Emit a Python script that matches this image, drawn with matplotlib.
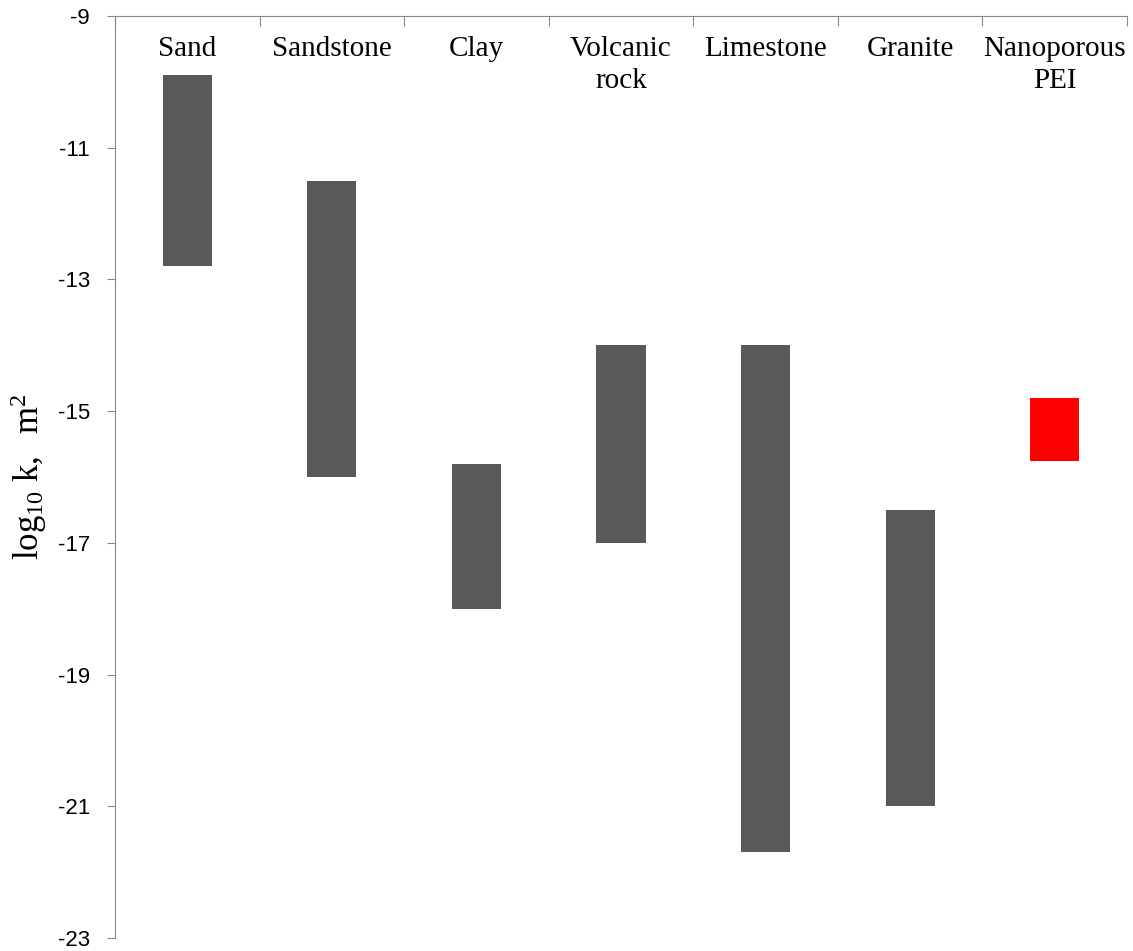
import matplotlib
matplotlib.use("Agg")
import matplotlib.pyplot as plt

# Permeability ranges (log10 k, m^2) for each material
categories = ["Sand", "Sandstone", "Clay", "Volcanic\nrock", "Limestone", "Granite", "Nanoporous\nPEI"]
upper = [-9.9, -11.5, -15.8, -14.0, -14.0, -16.5, -14.8]
lower = [-12.8, -16.0, -18.0, -17.0, -21.7, -21.0, -15.75]
colors = ["#595959"] * 6 + ["#ff0000"]

plt.rcParams["mathtext.fontset"] = "custom"
plt.rcParams["mathtext.rm"] = "Liberation Serif"
plt.rcParams["mathtext.it"] = "Liberation Serif:italic"

W, H = 1133, 951
fig = plt.figure(figsize=(W / 100, H / 100), dpi=100)
ax = fig.add_axes([115 / W, 1 - 938 / H, (1127 - 115) / W, (938 - 16) / H])

axis_gray = "#898989"
x = [i + 0.5 for i in range(len(categories))]
heights = [u - l for u, l in zip(upper, lower)]
ax.bar(x, heights, bottom=lower, width=0.34, color=colors, edgecolor="none")

ax.set_xlim(0, len(categories))
ax.set_ylim(-23, -9)
ax.set_yticks(range(-23, -8, 2))
ax.set_yticklabels([str(v) for v in range(-23, -8, 2)], family="Liberation Sans", fontsize=16)

# Category boundary ticks along the top axis line
ax.xaxis.tick_top()
ax.set_xticks(range(len(categories) + 1))
ax.set_xticklabels([])
ax.tick_params(axis="x", direction="in", length=7.5, width=0.8, color=axis_gray)
ax.tick_params(axis="y", direction="out", length=6, width=0.8, color=axis_gray, pad=12)

for side in ("right", "bottom"):
    ax.spines[side].set_visible(False)
for side in ("left", "top"):
    ax.spines[side].set_color(axis_gray)
    ax.spines[side].set_linewidth(0.8)

for xi, name in zip(x, categories):
    ax.text(xi, -9.31, name, ha="center", va="top", family="Liberation Serif",
            fontsize=21, linespacing=1.28)

ax.set_ylabel(r"$\mathregular{log_{10}\ k,\ \ m^2}$", fontsize=25, labelpad=6,
              family="Liberation Serif")

fig.savefig("out.png", dpi=100)
